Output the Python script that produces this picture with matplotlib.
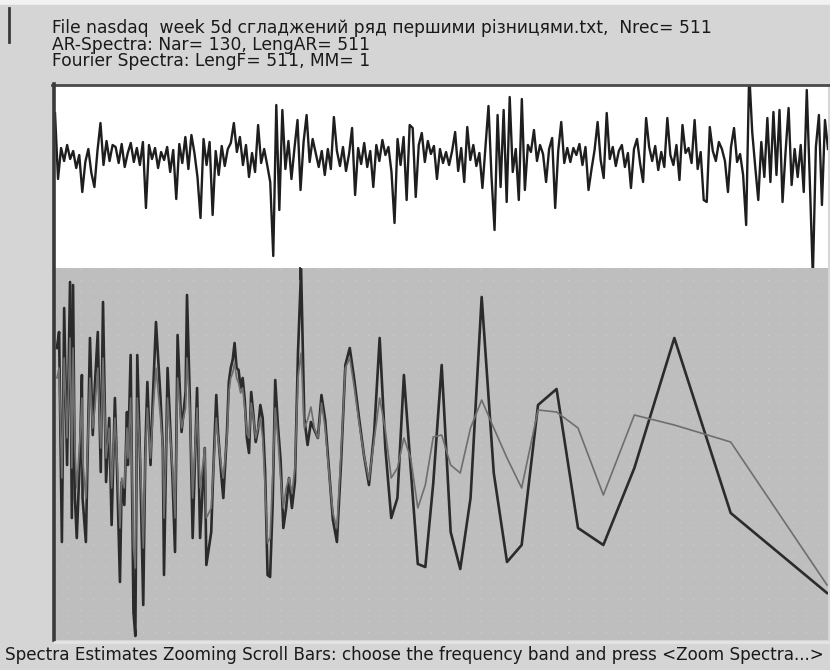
import numpy as np
import matplotlib
matplotlib.use("Agg")
import matplotlib.pyplot as plt
from matplotlib.lines import Line2D

W, H = 830, 670

header = [
    "File nasdaq  week 5d сгладжений ряд першими різницями.txt,  Nrec= 511",
    "AR-Spectra: Nar= 130, LengAR= 511",
    "Fourier Spectra: LengF= 511, MM= 1",
]
footer = "Spectra Estimates Zooming Scroll Bars: choose the frequency band and press <Zoom Spectra...>"

# smoothed series, first differences (every second record of 511)
weeks = np.arange(0, 511, 2)
diffs = [
    4.4, -2.2, 0.9, -0.4, 1.2, -0.2, 0.6, -1.1, 0.2, -3.5,
    -0.5, 0.8, -1.6, -3.0, 0.6, 3.4, -0.8, 1.6, -0.4, 1.2,
    1.0, -0.6, 1.3, -1.0, 0.4, 1.4, -0.5, 0.9, -0.8, 1.5,
    -5.1, 1.2, -0.2, 0.9, -1.1, 0.5, -0.3, 1.0, -1.5, 0.7,
    -4.2, 1.3, -0.6, 2.0, -1.2, 2.2, 0.4, -2.0, -6.1, 1.8,
    -0.8, 1.5, -5.8, 0.6, -1.8, 1.1, -0.9, 0.8, 1.4, 3.4,
    0.5, 2.0, -0.8, 1.2, -2.0, 0.4, -1.5, 3.2, -0.6, 0.8,
    -0.8, -2.5, -9.9, 5.2, -5.3, 4.7, -1.2, 1.6, -2.2, 0.9,
    3.7, -3.3, 1.5, 4.2, -0.5, 1.8, 0.4, -1.0, 0.6, -1.8,
    0.8, -1.2, 4.0, 0.6, -0.9, 1.0, -1.4, 0.3, 2.9, -3.8,
    0.9, -0.7, 1.4, -1.0, 0.6, -3.0, 1.2, -0.4, 1.7, 0.2,
    1.0, -1.5, -6.6, 1.8, -0.8, 2.0, -4.3, 3.2, 2.9, -4.0,
    1.2, 2.4, -0.5, 1.6, 0.3, 1.1, -2.2, 0.8, -0.6, 0.5,
    -0.8, 0.6, 2.5, -1.4, 0.9, -2.5, 3.0, -0.3, 1.2, -0.9,
    0.4, -3.1, 1.0, 5.1, -2.0, -7.3, 4.2, -3.0, 4.7, -4.5,
    6.0, -1.5, 0.8, -4.3, 5.8, -3.3, 1.2, 0.5, 2.7, -0.4,
    1.2, 0.3, -2.5, 0.8, 1.9, -5.1, 0.6, 3.5, -0.6, 0.9,
    -0.5, 0.9, 0.2, 1.3, -0.8, 1.0, -3.3, -1.2, 0.7, 3.5,
    -0.3, -2.1, 4.4, -0.2, 1.0, -0.9, 0.6, 1.2, -1.0, 0.4,
    -3.1, 0.8, 1.8, -0.6, -2.5, 3.9, 1.0, -0.4, 1.1, -1.3,
    0.5, -1.0, 3.9, 0.2, -0.8, 1.2, -2.3, 3.2, 0.4, 0.9,
    -0.6, 3.7, -1.2, 0.5, -4.3, -4.5, 3.0, 0.6, -0.4, 1.5,
    0.8, -0.4, -3.5, 1.0, 2.9, -0.5, 0.3, -1.8, -6.8, 8.5,
    2.5, -1.0, -4.3, 1.5, -2.0, 3.9, -2.5, 4.5, -1.8, 4.7,
    -4.5, 0.5, 4.9, -2.8, 0.8, -2.0, 1.2, -3.5, 6.7, -2.4,
    -12.0, 1.0, 4.2, -4.8, 3.7, 0.8,
]

# harmonic number k (period = 511/k), high frequencies on the left
harm = [
    255, 251, 246, 242, 237, 232, 229, 227, 224, 221,
    216, 213, 212, 207, 201, 197, 194, 190, 186, 183,
    179, 175, 172, 168, 166, 162, 160, 157, 154, 153,
    150, 147, 145, 143, 140, 137, 135, 133, 130, 128,
    125, 121, 119, 118, 115, 111, 109, 107, 104, 101,
    100, 98, 96, 93, 91, 88, 87, 84, 83, 81,
    80, 78, 77, 75,
    74, 73, 72, 71, 70, 69, 68, 67, 66, 65,
    64, 63, 62, 61, 60, 59, 58, 57, 56, 55,
    54, 53, 52, 51, 50, 49, 48, 47, 46, 45,
    44, 43, 42, 41, 40, 39, 38, 37, 36, 35,
    34, 33, 32, 31, 30, 29, 28, 27, 26, 25,
    24, 23, 22, 21, 20, 19, 18, 17, 16, 15,
    14, 13, 12, 11, 10, 9, 8, 7, 6, 5,
    4, 3, 2, 1,
]
fourier_lg = [
    2.90, 3.06, 0.96, 3.30, 1.73, 3.56, 1.20, 3.53, 1.40, 1.00,
    1.83, 2.63, 1.40, 0.96, 3.00, 2.03, 2.53, 3.06, 1.66, 3.36,
    1.56, 2.20, 1.13, 2.40, 1.86, 0.56, 1.56, 1.33, 2.26, 1.73,
    2.83, 0.26, 0.02, 2.83, 1.73, 0.33, 1.86, 2.56, 1.73, 2.36,
    3.16, 2.40, 1.90, 0.63, 2.70, 1.60, 0.86, 3.03, 2.06, 2.46,
    3.43, 2.40, 1.00, 2.50, 1.00, 1.90, 0.73, 1.06, 1.56, 2.43,
    2.06, 1.60, 1.40, 2.06,
    2.56, 2.70, 2.78, 2.95, 2.70, 2.68, 2.50, 2.60, 2.38, 2.00,
    1.85, 2.46, 2.23, 1.96, 2.08, 2.33, 2.20, 1.66, 0.63, 0.61,
    1.33, 2.58, 2.13, 1.78, 1.10, 1.30, 1.60, 1.30, 1.56, 2.85,
    3.69, 2.20, 1.93, 2.16, 2.08, 2.00, 2.43, 2.18, 1.68, 1.18,
    0.96, 1.76, 2.73, 2.90, 2.58, 2.20, 1.83, 1.53, 2.06, 3.00,
    1.90, 1.20, 1.40, 2.63, 1.70, 0.74, 0.71, 1.55, 2.73, 1.06,
    0.69, 1.40, 3.41, 1.65, 0.76, 0.93, 2.33, 2.49, 1.10, 0.93,
    1.70, 3.00, 1.25, 0.45,
]
ar_lg = [
    2.60, 2.70, 1.60, 2.80, 2.00, 3.00, 1.70, 2.90, 1.90, 1.50,
    2.00, 2.40, 1.80, 1.40, 2.60, 2.10, 2.30, 2.70, 1.90, 2.80,
    1.80, 2.10, 1.50, 2.20, 1.90, 1.10, 1.60, 1.50, 2.10, 1.80,
    2.40, 0.90, 0.70, 2.40, 1.80, 0.90, 1.80, 2.30, 1.80, 2.20,
    2.70, 2.20, 1.90, 1.20, 2.40, 1.70, 1.20, 2.60, 2.10, 2.30,
    2.80, 2.30, 1.40, 2.30, 1.50, 1.90, 1.20, 1.30, 1.60, 2.20,
    2.00, 1.70, 1.60, 2.00,
    2.45, 2.60, 2.65, 2.75, 2.60, 2.55, 2.45, 2.50, 2.30, 2.05,
    2.00, 2.35, 2.20, 2.00, 2.10, 2.20, 2.00, 1.50, 0.95, 1.00,
    1.60, 2.30, 2.00, 1.60, 1.30, 1.50, 1.60, 1.45, 1.70, 2.60,
    2.85, 2.10, 2.18, 2.31, 2.10, 2.00, 2.35, 2.10, 1.65, 1.25,
    1.10, 1.85, 2.70, 2.80, 2.50, 2.15, 1.83, 1.58, 1.98, 2.40,
    2.08, 1.60, 1.70, 2.00, 1.80, 1.30, 1.53, 2.01, 2.03, 1.73,
    1.65, 2.10, 2.38, 2.10, 1.80, 1.50, 2.28, 2.26, 2.10, 1.43,
    2.23, 2.13, 1.96, 0.53,
]


def fx(px):
    return px / W


def fy(py):
    return 1 - py / H


plt.rcParams['font.family'] = ['DejaVu Sans']

fig = plt.figure(figsize=(W / 100, H / 100), dpi=100)
fig.patch.set_facecolor('#d5d5d5')

# series panel
ax1 = fig.add_axes([fx(55), fy(268), fx(828) - fx(55), fy(86) - fy(268)])
ax1.set_facecolor('white')
ax1.plot(weeks, diffs, color='#1e1e1e', lw=1.7)
ax1.set_xlim(0, 510)
ax1.set_ylim(-11.1, 7.1)
ax1.set_xticks([])
ax1.set_yticks([])
for s in ax1.spines.values():
    s.set_visible(False)

# spectra panel
ax2 = fig.add_axes([fx(55), fy(640), fx(828) - fx(55), fy(268) - fy(640)])
ax2.set_facecolor('#bebebe')
ax2.set_xscale('log')
ax2.plot(harm, fourier_lg, color='#2b2b2b', lw=1.9)
ax2.plot(harm, ar_lg, color='#6e6e6e', lw=1.2)
ax2.set_xlim(258.5, 0.993)
ax2.set_ylim(-0.02, 3.7)
ax2.set_yticks(np.arange(0.06, 3.7, 0.11))
ax2.set_xticks([])
ax2.minorticks_off()
ax2.tick_params(left=False, labelleft=False)
ax2.grid(axis='y', color='#cdcdcd', lw=0.9, linestyle=(0, (1, 9)))
ax2.set_axisbelow(True)
for s in ax2.spines.values():
    s.set_visible(False)

# window frame
fig.add_artist(Line2D([fx(52), fx(829)], [fy(84.5), fy(84.5)], color='#4a4a4a', lw=2))
fig.add_artist(Line2D([fx(53.5), fx(53.5)], [fy(84), fy(640)], color='#3a3a3a', lw=2.6))
fig.add_artist(Line2D([fx(300), fx(300)], [fy(268), fy(279)], color='#2a2a2a', lw=1.3))
fig.add_artist(Line2D([fx(9), fx(9)], [fy(8), fy(42)], color='#3a3a3a', lw=2))
fig.add_artist(Line2D([fx(0), fx(830)], [fy(2), fy(2)], color='#f2f2f2', lw=4))
fig.add_artist(Line2D([fx(55), fx(830)], [fy(641.5), fy(641.5)], color='#e4e4e4', lw=2))

for i, line in enumerate(header):
    fig.text(fx(52), fy(33 + 16.5 * i), line, fontsize=12.3, color='#1a1a1a',
             va='baseline', ha='left')
fig.text(fx(5), fy(660), footer, fontsize=12.1, color='#1a1a1a',
         va='baseline', ha='left')

fig.savefig('out.png', dpi=100, facecolor=fig.get_facecolor())
